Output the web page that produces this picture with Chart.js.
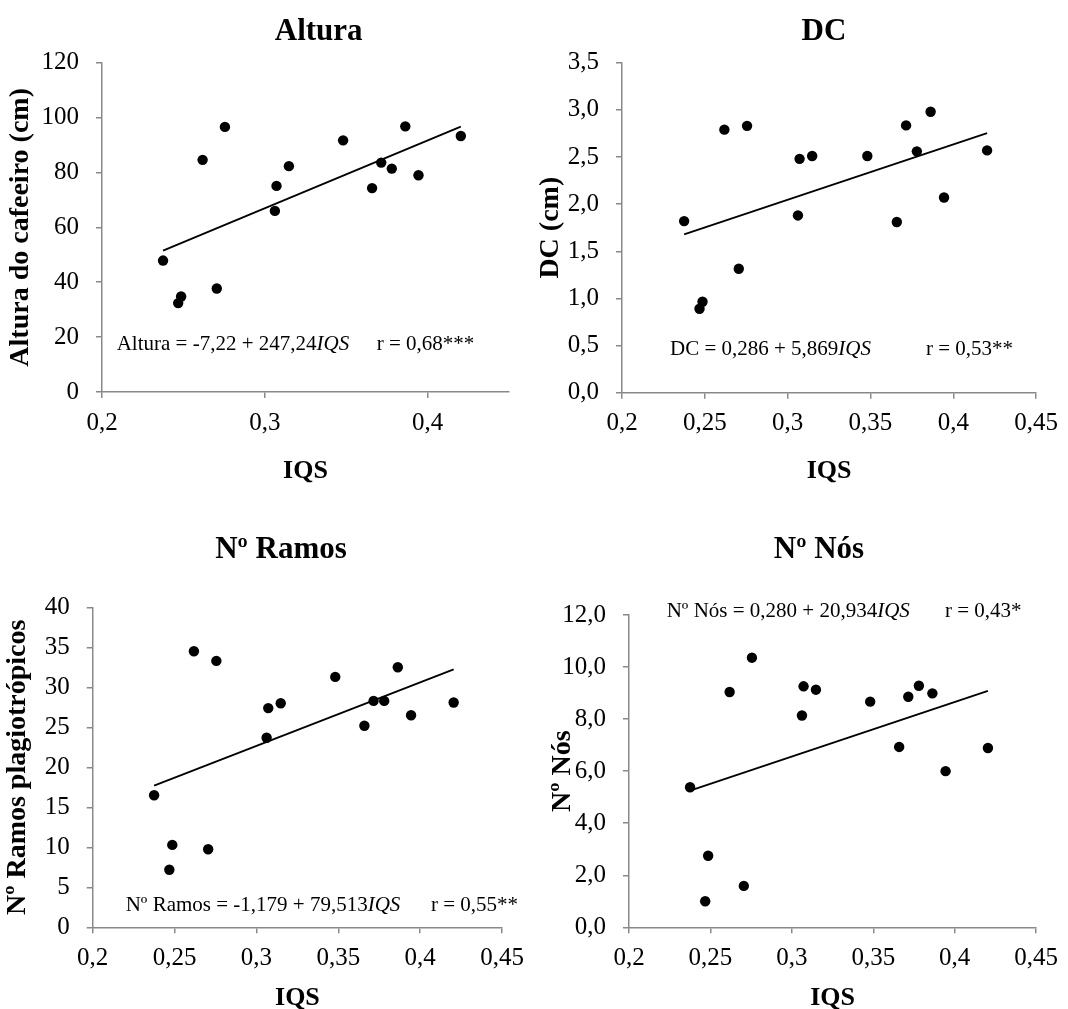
<!DOCTYPE html>
<html lang="pt">
<head>
<meta charset="utf-8">
<title>IQS e crescimento do cafeeiro</title>
<script src="https://cdn.jsdelivr.net/npm/chart.js@4.4.1/dist/chart.umd.min.js"></script>
<style>
  html, body { margin: 0; padding: 0; background: #fff; overflow: hidden; }
  #painel { position: relative; width: 1068px; height: 1009px; }
  #painel canvas { position: absolute; }
</style>
</head>
<body>
<div id="painel"></div>
<script>
// IQS de cada parcela (eixo x comum aos quatro gráficos)
const iqs = [0.2375, 0.2468, 0.2486, 0.2618, 0.2705, 0.2755, 0.3062, 0.3072,
             0.3148, 0.3481, 0.3659, 0.3715, 0.3780, 0.3863, 0.3944, 0.4204];

const altura = [47.9, 32.4, 34.8, 84.6, 37.7, 96.6, 66.0, 75.1,
                82.3, 91.7, 74.3, 83.6, 81.4, 96.8, 79.0, 93.3];
const dc = [1.82, 0.89, 0.965, 2.79, 1.315, 2.83, 1.88, 2.48,
            2.51, 2.51, 1.81, 2.835, 2.56, 2.98, 2.07, 2.57];
const ramos = [16.5, 7.2, 10.3, 34.5, 9.75, 33.3, 23.7, 27.4,
               28.0, 31.3, 25.2, 28.3, 28.3, 32.5, 26.5, 28.1];
const nos = [5.38, 1.0, 2.75, 9.04, 1.59, 10.36, 8.14, 9.26,
             9.13, 8.67, 6.93, 8.86, 9.28, 8.99, 6.0, 6.89];

// coeficientes das retas ajustadas: y = a + b*IQS
const retaAltura = [-7.22, 247.24];
const retaDc = [0.286, 5.869];
const retaRamos = [-1.179, 79.513];
const retaNos = [0.280, 20.934];

// marcas dos eixos
const ticksIqsCurto = [0.2, 0.3, 0.4];
const ticksIqs = [0.2, 0.25, 0.3, 0.35, 0.4, 0.45];
const ticksAltura = [0, 20, 40, 60, 80, 100, 120];
const ticksDc = [0, 0.5, 1, 1.5, 2, 2.5, 3, 3.5];
const ticksRamos = [0, 5, 10, 15, 20, 25, 30, 35, 40];
const ticksNos = [0, 2, 4, 6, 8, 10, 12];

const CINZA = '#898989';
const FONTE = '"Liberation Serif", "Times New Roman", serif';

Chart.defaults.color = '#000';
Chart.defaults.font.family = FONTE;

const paineis = [
  {
    titulo: 'Altura', eixoY: 'Altura do cafeeiro (cm)', valores: altura, reta: retaAltura,
    ticksX: ticksIqsCurto, ticksY: ticksAltura, casas: 0,
    eq: 'Altura = -7,22 + 247,24', r: 'r = 0,68***',
    caixa: [0, 0, 534, 500], larguraY: 102, alturaX: 94.6, tituloYPad: 4.2,
    pad: { left: 0, top: 62.7, right: 25, bottom: 13.4 },
    posTitulo: [318.7, 40], posEq: [116.7, 349.5], posR: 376.7
  },
  {
    titulo: 'DC', eixoY: 'DC (cm)', valores: dc, reta: retaDc,
    ticksX: ticksIqs, ticksY: ticksDc, casas: 1,
    eq: 'DC = 0,286 + 5,869', r: 'r = 0,53**',
    caixa: [534, 0, 534, 500], larguraY: 88, alturaX: 93.9, tituloYPad: 0,
    pad: { left: 0, top: 62.7, right: 27, bottom: 13.4 },
    posTitulo: [290, 40], posEq: [136, 355], posR: 392
  },
  {
    titulo: 'Nº Ramos', eixoY: 'Nº Ramos plagiotrópicos', valores: ramos, reta: retaRamos,
    ticksX: ticksIqs, ticksY: ticksRamos, casas: 0,
    eq: 'Nº Ramos = -1,179 + 79,513', r: 'r = 0,55**',
    caixa: [0, 500, 534, 515], larguraY: 92.7, alturaX: 86.5, tituloYPad: 1.4,
    pad: { left: 0, top: 107.3, right: 28.3, bottom: 1.2 },
    posTitulo: [281, 58], posEq: [125.7, 410.7], posR: 431
  },
  {
    titulo: 'Nº Nós', eixoY: 'Nº Nós', valores: nos, reta: retaNos,
    ticksX: ticksIqs, ticksY: ticksNos, casas: 1,
    eq: 'Nº Nós = 0,280 + 20,934', r: 'r = 0,43*',
    caixa: [534, 500, 534, 515], larguraY: 95, alturaX: 86.5, tituloYPad: 12.2,
    pad: { left: 0, top: 115, right: 27, bottom: 1.2 },
    posTitulo: [285, 58], posEq: [132.7, 117.3], posR: 411
  }
];

// título do gráfico e equação da reta, escritos sobre o canvas
const textoPainel = {
  id: 'textoPainel',
  afterDraw(chart, args, opts) {
    const ctx = chart.ctx;
    ctx.save();
    ctx.fillStyle = '#000';
    ctx.textBaseline = 'alphabetic';
    ctx.textAlign = 'center';
    ctx.font = 'bold 31px ' + FONTE;
    ctx.fillText(opts.titulo, opts.posTitulo[0], opts.posTitulo[1]);

    ctx.textAlign = 'left';
    let [x, y] = opts.posEq;
    ctx.font = '21px ' + FONTE;
    ctx.fillText(opts.eq, x, y);
    x += ctx.measureText(opts.eq).width;
    ctx.font = 'italic 21px ' + FONTE;
    ctx.fillText('IQS', x, y);
    ctx.font = '21px ' + FONTE;
    ctx.fillText(opts.r, opts.posR, y);
    ctx.restore();
  }
};

const virgula = (v, casas) => (casas == null ? String(v) : v.toFixed(casas)).replace('.', ',');

const xMin = Math.min(...iqs);
const xMax = Math.max(...iqs);

paineis.forEach((p) => {
  const canvas = document.createElement('canvas');
  const [cx, cy, cw, ch] = p.caixa;
  canvas.width = cw;
  canvas.height = ch;
  canvas.style.left = cx + 'px';
  canvas.style.top = cy + 'px';
  document.getElementById('painel').appendChild(canvas);

  const pontos = iqs.map((x, i) => ({ x: x, y: p.valores[i] }));
  const [a, b] = p.reta;
  const linha = [
    { x: xMin, y: a + b * xMin },
    { x: xMax, y: a + b * xMax }
  ];

  new Chart(canvas, {
    type: 'scatter',
    data: {
      datasets: [
        {
          data: pontos,
          pointRadius: 5.2,
          backgroundColor: '#000',
          borderColor: '#000',
          borderWidth: 0
        },
        {
          data: linha,
          showLine: true,
          pointRadius: 0,
          borderColor: '#000',
          borderWidth: 1.8
        }
      ]
    },
    options: {
      responsive: false,
      animation: false,
      events: [],
      layout: { padding: p.pad },
      plugins: {
        legend: { display: false },
        tooltip: { enabled: false },
        textoPainel: {
          titulo: p.titulo, eq: p.eq, r: p.r,
          posTitulo: p.posTitulo, posEq: p.posEq, posR: p.posR
        }
      },
      scales: {
        x: {
          type: 'linear',
          min: 0.2,
          max: 0.45,
          afterBuildTicks: (eixo) => { eixo.ticks = p.ticksX.map((v) => ({ value: v })); },
          afterFit: (eixo) => { eixo.height = p.alturaX; },
          ticks: {
            autoSkip: false,
            maxRotation: 0,
            padding: 10,
            font: { size: 25 },
            callback: (v) => virgula(v)
          },
          grid: { drawOnChartArea: false, tickLength: 6, color: CINZA, lineWidth: 1.5 },
          border: { color: CINZA, width: 1.5 },
          title: {
            display: true,
            text: 'IQS',
            font: { size: 26, weight: 'bold' },
            padding: { top: 0, bottom: 0 }
          }
        },
        y: {
          type: 'linear',
          min: p.ticksY[0],
          max: p.ticksY[p.ticksY.length - 1],
          afterBuildTicks: (eixo) => { eixo.ticks = p.ticksY.map((v) => ({ value: v })); },
          afterFit: (eixo) => { eixo.width = p.larguraY; },
          ticks: {
            autoSkip: false,
            padding: 17,
            font: { size: 25 },
            callback: (v) => virgula(v, p.casas)
          },
          grid: { drawOnChartArea: false, tickLength: 6, color: CINZA, lineWidth: 1.5 },
          border: { color: CINZA, width: 1.5 },
          title: {
            display: true,
            text: p.eixoY,
            font: { size: 28, weight: 'bold' },
            padding: { top: p.tituloYPad, bottom: 0 }
          }
        }
      }
    },
    plugins: [textoPainel]
  });
});
</script>
</body>
</html>
